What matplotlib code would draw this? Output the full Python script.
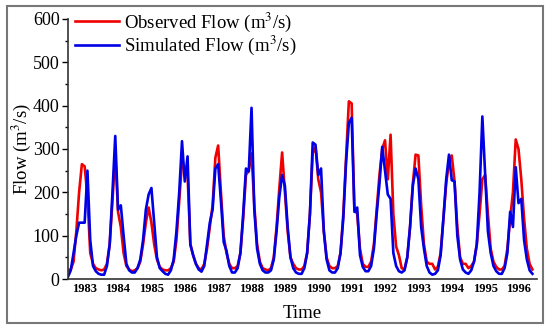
import numpy as np
import matplotlib
matplotlib.use('Agg')
import matplotlib.pyplot as plt
from matplotlib.patches import Rectangle
from matplotlib.ticker import MultipleLocator

plt.rcParams['font.family'] = ['Liberation Serif', 'DejaVu Serif']
plt.rcParams['mathtext.fontset'] = 'stix'

years = list(range(1983, 1997))

# monthly flow, Jan 1983 .. Dec 1996 (m3/s)
observed = [
    20, 22, 40, 110, 200, 265, 260, 190, 60, 35, 25, 22,      # 1983
    20, 22, 35, 80, 180, 290, 155, 120, 60, 30, 22, 18,       # 1984
    20, 25, 40, 80, 130, 165, 130, 80, 45, 28, 22, 20,        # 1985
    20, 25, 40, 90, 180, 270, 250, 240, 80, 55, 35, 25,       # 1986
    22, 35, 70, 120, 170, 280, 308, 200, 100, 60, 35, 25,     # 1987
    25, 30, 60, 140, 240, 250, 290, 170, 80, 40, 25, 22,      # 1988
    20, 25, 50, 120, 210, 292, 200, 110, 50, 35, 25, 22,      # 1989
    22, 30, 60, 150, 290, 305, 230, 200, 110, 50, 30, 25,     # 1990
    25, 30, 60, 150, 280, 410, 405, 160, 150, 70, 35, 28,     # 1991
    28, 40, 80, 160, 240, 300, 320, 230, 333, 150, 75, 55,    # 1992
    25, 22, 50, 120, 220, 287, 285, 170, 80, 40, 35, 35,      # 1993
    22, 28, 60, 140, 220, 270, 285, 225, 120, 50, 35, 35,     # 1994
    25, 30, 40, 80, 150, 230, 240, 150, 70, 40, 28, 22,       # 1995
    22, 30, 70, 140, 200, 322, 300, 230, 140, 70, 35, 22,     # 1996
]
simulated = [
    5, 20, 60, 100, 130, 130, 130, 250, 90, 30, 18, 12,       # 1983
    10, 10, 30, 80, 200, 330, 160, 170, 100, 35, 20, 15,      # 1984
    15, 25, 45, 90, 160, 195, 210, 130, 50, 25, 18, 12,       # 1985
    10, 20, 45, 110, 200, 318, 225, 283, 80, 55, 35, 22,      # 1986
    17, 30, 80, 130, 160, 255, 265, 180, 85, 65, 30, 15,      # 1987
    15, 25, 60, 150, 255, 248, 395, 160, 70, 35, 20, 15,      # 1988
    15, 20, 45, 110, 190, 240, 215, 120, 50, 25, 15, 12,      # 1989
    12, 25, 60, 150, 315, 310, 240, 255, 110, 45, 20, 15,     # 1990
    15, 25, 60, 140, 270, 360, 372, 155, 165, 55, 28, 18,     # 1991
    18, 30, 70, 150, 220, 305, 250, 195, 185, 60, 30, 18,     # 1992
    15, 20, 50, 120, 215, 255, 230, 120, 70, 30, 15, 10,      # 1993
    12, 20, 55, 140, 230, 287, 228, 225, 100, 45, 22, 15,     # 1994
    12, 20, 40, 80, 200, 375, 240, 110, 60, 30, 18, 12,       # 1995
    12, 25, 60, 155, 120, 258, 175, 185, 90, 45, 20, 12,      # 1996
]

months = np.arange(len(observed))

fig = plt.figure(figsize=(5.5, 3.3), dpi=100)
ax = fig.add_axes([0.1236, 0.1545, 0.852, 0.788])

ax.plot(months, observed, color='#f00000', lw=1.9, label='Observed Flow (m$^3$/s)')
ax.plot(months, simulated, color='#0000e6', lw=1.9, label='Simulated Flow (m$^3$/s)')

ax.set_xlim(0, 168.5)
ax.set_ylim(0, 600)
ax.set_xticks([12 * i + 6 for i in range(len(years))])
ax.set_xticklabels([str(y) for y in years], fontweight='bold', fontsize=9)
ax.tick_params(axis='x', length=0, pad=3)
ax.yaxis.set_major_locator(MultipleLocator(100))
ax.yaxis.set_minor_locator(MultipleLocator(50))
ax.tick_params(axis='y', which='major', length=4, width=1, labelsize=13, direction='out', pad=2)
ax.tick_params(axis='y', which='minor', length=2.5, width=1, direction='out')

for s in ['top', 'right']:
    ax.spines[s].set_visible(False)
for s in ['left', 'bottom']:
    ax.spines[s].set_linewidth(1.2)
    ax.spines[s].set_color('#333333')

ax.set_xlabel('Time', fontsize=13.5, labelpad=7)
ax.set_ylabel('Flow (m$^3$/s)', fontsize=13.5)
ax.yaxis.set_label_coords(-0.075, 0.5)

ax.legend(loc='upper left', frameon=False, fontsize=13.5, handlelength=2.3,
          handletextpad=0.3, labelspacing=0.0, borderaxespad=0.0,
          bbox_to_anchor=(0.0, 1.062))

# outer frame around figure
fig.patches.append(Rectangle((0.012, 0.02), 0.976, 0.963, transform=fig.transFigure,
                             fill=False, edgecolor='#777777', lw=1.5))

fig.savefig('out.png', dpi=100)
